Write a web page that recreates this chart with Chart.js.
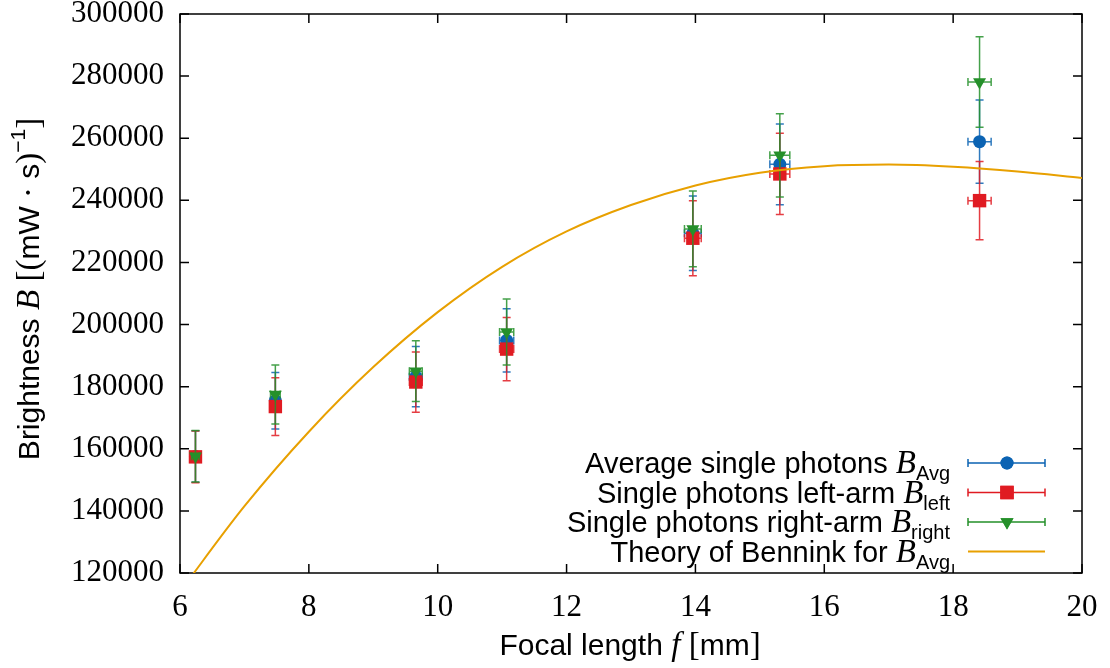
<!DOCTYPE html>
<html>
<head>
<meta charset="utf-8">
<script src="https://cdn.jsdelivr.net/npm/chart.js@4.4.0/dist/chart.umd.min.js"></script>
<style>
html, body { margin: 0; padding: 0; background: #fff; }
#wrap { position: relative; width: 1110px; height: 668px; }
</style>
</head>
<body>
<div id="wrap"><canvas id="plot"></canvas></div>
<script>
// focal length f [mm] and its uncertainty
const focal = [6.24, 7.48, 9.66, 11.07, 13.96, 15.31, 18.41];
const focalErr = [0.06, 0.075, 0.1, 0.11, 0.13, 0.155, 0.18];

// brightness B [(mW s)^-1]
const bAvg = [157500, 175500, 183200, 194900, 229400, 251600, 258900];
const bAvgErr = [8300, 9100, 9700, 10200, 12000, 13000, 13400];
const bLeft = [157400, 173600, 181500, 192100, 227800, 248500, 239900];
const bLeftErr = [8300, 9300, 9700, 10200, 12100, 13100, 12600];
const bRight = [157600, 177500, 185000, 197600, 230800, 254500, 278100];
const bRightErr = [8300, 9500, 9800, 10600, 12200, 13400, 14600];

// Bennink theory curve
const theoryF = [6, 7, 8, 9, 10, 11, 12, 13, 14, 15, 16, 17, 18, 19, 20];
const theoryB = [114000, 141500, 165500, 186300, 204000, 218600, 230000, 238500, 244800, 248900, 251000, 251500, 250800, 249300, 247200];

const xTicks = [6, 8, 10, 12, 14, 16, 18, 20];
const yTicks = [120000, 140000, 160000, 180000, 200000, 220000, 240000, 260000, 280000, 300000];

const BLUE = '#0b63b3', RED = '#e01b22', GREEN = '#25902a', ORANGE = '#e8a000';
const SANS = '"Liberation Sans", Arial, sans-serif';
const SERIF = '"Liberation Serif", "Times New Roman", serif';

function pts(xs, ys) { return xs.map((x, i) => ({ x: x, y: ys[i] })); }

// error bars drawn just before each dataset's own markers
const errorBars = {
    id: 'errorBars',
    beforeDatasetDraw(chart, args) {
        const ds = chart.data.datasets[args.index];
        if (!ds.yErr) return;
        const sx = chart.scales.x, sy = chart.scales.y, ctx = chart.ctx, a = chart.chartArea;
        ctx.save();
        ctx.beginPath(); ctx.rect(a.left, a.top, a.right - a.left, a.bottom - a.top); ctx.clip();
        ctx.strokeStyle = ds.barColor; ctx.lineWidth = 1.5; ctx.globalAlpha = 0.85;
        ds.data.forEach((p, i) => {
            const px = sx.getPixelForValue(p.x), py = sy.getPixelForValue(p.y);
            const y0 = sy.getPixelForValue(p.y - ds.yErr[i]), y1 = sy.getPixelForValue(p.y + ds.yErr[i]);
            const x0 = sx.getPixelForValue(p.x - ds.xErr[i]), x1 = sx.getPixelForValue(p.x + ds.xErr[i]);
            ctx.beginPath();
            ctx.moveTo(px, y0); ctx.lineTo(px, y1);
            ctx.moveTo(px - 4, y0); ctx.lineTo(px + 4, y0);
            ctx.moveTo(px - 4, y1); ctx.lineTo(px + 4, y1);
            ctx.moveTo(x0, py); ctx.lineTo(x1, py);
            ctx.moveTo(x0, py - 4); ctx.lineTo(x0, py + 4);
            ctx.moveTo(x1, py - 4); ctx.lineTo(x1, py + 4);
            ctx.stroke();
        });
        ctx.restore();
    }
};

// gnuplot style frame with inward ticks on all sides
const frame = {
    id: 'frame',
    beforeDatasetsDraw(chart) {
        const ctx = chart.ctx, a = chart.chartArea, sx = chart.scales.x, sy = chart.scales.y;
        ctx.save();
        ctx.strokeStyle = '#000'; ctx.lineWidth = 1.5;
        ctx.strokeRect(a.left, a.top, a.right - a.left, a.bottom - a.top);
        ctx.beginPath();
        sx.ticks.forEach(t => {
            const x = sx.getPixelForValue(t.value);
            ctx.moveTo(x, a.bottom); ctx.lineTo(x, a.bottom - 9);
            ctx.moveTo(x, a.top); ctx.lineTo(x, a.top + 9);
        });
        sy.ticks.forEach(t => {
            const y = sy.getPixelForValue(t.value);
            ctx.moveTo(a.left, y); ctx.lineTo(a.left + 9, y);
            ctx.moveTo(a.right, y); ctx.lineTo(a.right - 9, y);
        });
        ctx.stroke();
        ctx.restore();
    }
};

// text runs: [text, font, dy]
function runsWidth(ctx, runs) {
    let w = 0;
    runs.forEach(r => { ctx.font = r[1]; w += ctx.measureText(r[0]).width; });
    return w;
}
function drawRuns(ctx, runs, x, y, align) {
    const w = runsWidth(ctx, runs);
    let cx = align === 'right' ? x - w : align === 'center' ? x - w / 2 : x;
    runs.forEach(r => {
        ctx.font = r[1];
        ctx.fillText(r[0], cx, y + (r[2] || 0));
        cx += ctx.measureText(r[0]).width;
    });
}

const tSans = '30px ' + SANS, tSub = '21px ' + SANS, tItal = 'italic 33px ' + SERIF, tRom = '33px ' + SERIF;
const lSans = '29px ' + SANS, lSub = '20px ' + SANS, lItal = 'italic 33px ' + SERIF;

const labels = {
    id: 'labels',
    afterDraw(chart) {
        const ctx = chart.ctx;
        ctx.save();
        ctx.fillStyle = '#000'; ctx.textBaseline = 'alphabetic';

        // x title
        drawRuns(ctx, [['Focal length ', tSans], ['f', tItal], [' ', tSans], ['[', tRom], ['mm', tSans], [']', tRom]], 630, 655, 'center');

        // y title
        ctx.save();
        ctx.translate(39, 289); ctx.rotate(-Math.PI / 2);
        drawRuns(ctx, [['Brightness ', tSans], ['B', tItal], [' ', tSans], ['[(', tRom], ['mW', tSans], [' · ', tRom],
            ['s', tSans], [')', tRom], ['−1', tSub, -14], [']', tRom]], 0, 0, 'center');
        ctx.restore();

        // legend
        const rows = [
            { runs: [['Average single photons ', lSans], ['B', lItal], ['Avg', lSub, 7]], color: BLUE, style: 'circle' },
            { runs: [['Single photons left-arm ', lSans], ['B', lItal], ['left', lSub, 7]], color: RED, style: 'rect' },
            { runs: [['Single photons right-arm ', lSans], ['B', lItal], ['right', lSub, 7]], color: GREEN, style: 'triangle' },
            { runs: [['Theory of Bennink for ', lSans], ['B', lItal], ['Avg', lSub, 7]], color: ORANGE, style: 'line' }
        ];
        rows.forEach((r, i) => {
            const cy = 463 + i * 29.5;
            drawRuns(ctx, r.runs, 950, cy + 10, 'right');
            ctx.strokeStyle = r.color;
            if (r.style === 'line') {
                ctx.lineWidth = 2;
                ctx.beginPath(); ctx.moveTo(968, cy); ctx.lineTo(1045, cy); ctx.stroke();
            } else {
                ctx.lineWidth = 1.5;
                ctx.beginPath();
                ctx.moveTo(968, cy); ctx.lineTo(1045, cy);
                ctx.moveTo(968, cy - 4); ctx.lineTo(968, cy + 4);
                ctx.moveTo(1045, cy - 4); ctx.lineTo(1045, cy + 4);
                ctx.stroke();
                ctx.fillStyle = r.color;
                const rad = r.style === 'circle' ? 6.5 : r.style === 'rect' ? 9.5 : 7.5;
                Chart.helpers.drawPoint(ctx, { pointStyle: r.style, radius: rad, rotation: r.style === 'triangle' ? 180 : 0, borderWidth: 0 }, 1007, cy);
                ctx.fill();
                ctx.fillStyle = '#000';
            }
        });
        ctx.restore();
    }
};

const mk = (label, ys, err, color, style, radius, order) => ({
    label: label,
    data: pts(focal, ys),
    yErr: err,
    xErr: focalErr,
    barColor: color,
    showLine: false,
    pointStyle: style,
    pointRadius: radius,
    pointRotation: style === 'triangle' ? 180 : 0,
    pointBackgroundColor: color,
    pointBorderColor: color,
    pointBorderWidth: 0,
    order: order
});

new Chart(document.getElementById('plot'), {
    type: 'scatter',
    data: {
        datasets: [
            {
                label: 'Theory of Bennink',
                data: pts(theoryF, theoryB),
                showLine: true,
                borderColor: ORANGE,
                borderWidth: 2,
                pointRadius: 0,
                cubicInterpolationMode: 'monotone',
                order: 0
            },
            mk('Average', bAvg, bAvgErr, BLUE, 'circle', 6.5, 3),
            mk('Left', bLeft, bLeftErr, RED, 'rect', 9.5, 2),
            mk('Right', bRight, bRightErr, GREEN, 'triangle', 7.5, 1)
        ]
    },
    options: {
        responsive: true,
        maintainAspectRatio: false,
        animation: false,
        events: [],
        layout: { padding: { top: 14, right: 28, left: 0, bottom: 0 } },
        plugins: { legend: { display: false }, tooltip: { enabled: false } },
        scales: {
            x: {
                type: 'linear', min: 6, max: 20,
                afterFit: s => { s.height = 95; s.paddingLeft = 0; s.paddingRight = 0; },
                afterBuildTicks: s => { s.ticks = xTicks.map(v => ({ value: v })); },
                grid: { display: false, drawTicks: false },
                border: { display: false },
                ticks: { autoSkip: false, maxRotation: 0, padding: 16, color: '#000', font: { family: SERIF, size: 31 }, callback: v => String(v) }
            },
            y: {
                type: 'linear', min: 120000, max: 300000,
                afterFit: s => { s.width = 180; s.paddingTop = 0; s.paddingBottom = 0; },
                afterBuildTicks: s => { s.ticks = yTicks.map(v => ({ value: v })); },
                grid: { display: false, drawTicks: false },
                border: { display: false },
                ticks: { autoSkip: false, padding: 16, color: '#000', font: { family: SERIF, size: 31 }, callback: v => String(v) }
            }
        }
    },
    plugins: [frame, errorBars, labels]
});
</script>
</body>
</html>
